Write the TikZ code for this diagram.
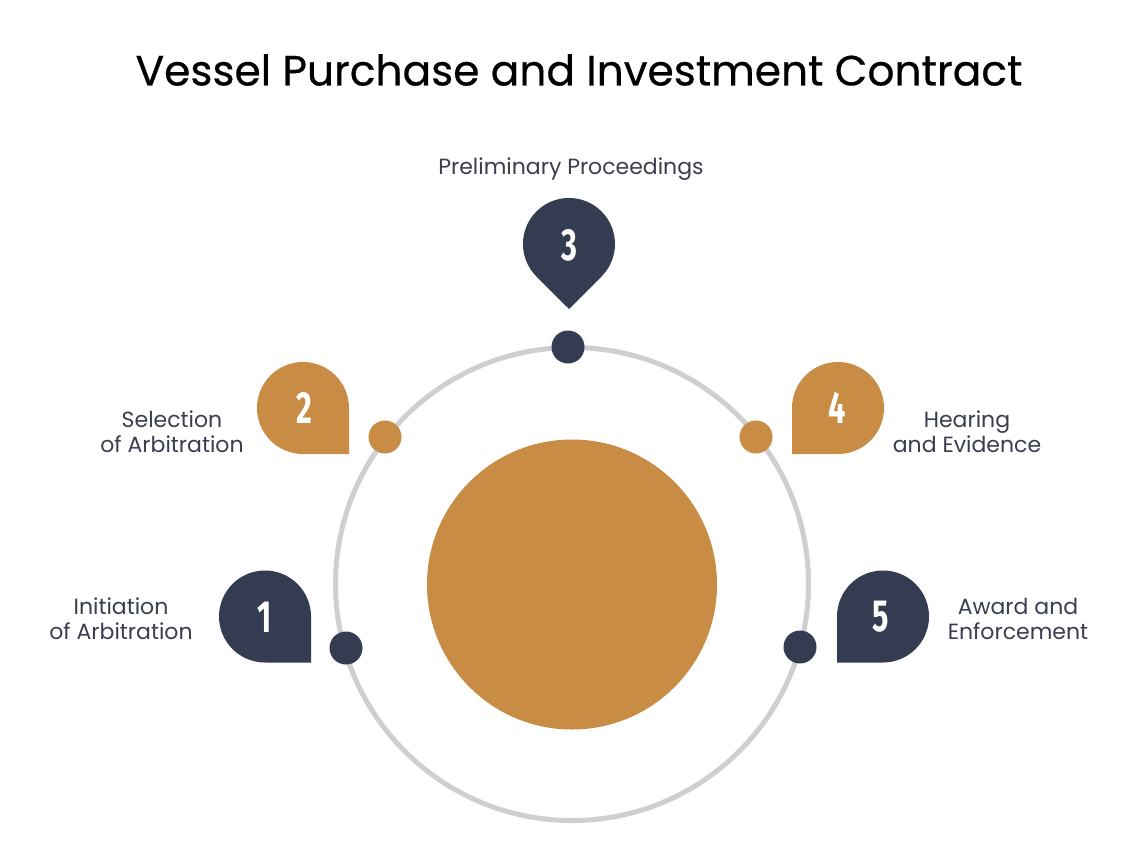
\documentclass[tikz,border=0pt]{standalone}
\usepackage{fontspec}
\setmainfont{Poppins}
\newfontfamily\titlefont[FakeBold=0.5]{Poppins}
\newfontfamily\numfont[FakeStretch=0.68]{Fira Sans}
\definecolor{navy}{HTML}{333C50}
\definecolor{gold}{HTML}{C98C45}
\definecolor{ringgray}{HTML}{CFCFCF}
\definecolor{txt}{HTML}{3A3F50}
\tikzset{
  lbl/.style={text=txt, align=center, font=\fontsize{22}{25}\selectfont, inner sep=0pt},
  num/.style={text=white, font=\numfont\bfseries\fontsize{45}{45}\selectfont, inner sep=0pt},
  dotn/.style={circle, minimum size=33pt, inner sep=0pt},
}
\begin{document}
\begin{tikzpicture}[x=1pt,y=-1pt]
\useasboundingbox[fill=white] (0,0) rectangle (1145,851);
% title
\node[font=\titlefont\fontsize{42.3}{45}\selectfont, text=black, inner sep=0pt] (title) at (579,70) {Vessel Purchase and Investment Contract};
% ring and central disc
\draw[ringgray, line width=5pt] (572,584) circle (236.5);
\fill[gold] (572,584.5) circle (145);
% dots on the ring
\node[dotn, fill=navy] (d3) at (568,347) {};
\node[dotn, fill=gold] (d2) at (385,437) {};
\node[dotn, fill=gold] (d4) at (756,437) {};
\node[dotn, fill=navy] (d1) at (346,648) {};
\node[dotn, fill=navy] (d5) at (800,647) {};
% badge 3 (teardrop pointing down)
\fill[navy] (569,309) -- (601.5,276.5) arc[start angle=45, end angle=-225, radius=46] -- cycle;
% badge 2 (sharp bottom-right)
\fill[gold] (349,454) -- (349,408) arc[start angle=0, end angle=-180, radius=46] arc[start angle=180, end angle=90, radius=46] -- cycle;
% badge 1 (sharp bottom-right)
\fill[navy] (311,662.5) -- (311,616.5) arc[start angle=0, end angle=-180, radius=46] arc[start angle=180, end angle=90, radius=46] -- cycle;
% badge 4 (sharp bottom-left)
\fill[gold] (792,454) -- (792,408) arc[start angle=180, end angle=360, radius=46] arc[start angle=0, end angle=90, radius=46] -- cycle;
% badge 5 (sharp bottom-left)
\fill[navy] (837,662.5) -- (837,616.5) arc[start angle=180, end angle=360, radius=46] arc[start angle=0, end angle=90, radius=46] -- cycle;
% numbers
\node[num] (n3) at (569,245) {3};
\node[num] (n2) at (304,408) {2};
\node[num] (n1) at (265,617) {1};
\node[num] (n4) at (837,408) {4};
\node[num] (n5) at (881,617) {5};
% labels
\node[lbl] (l3) at (571,169) {Preliminary Proceedings};
\node[lbl] (l2) at (172,432) {Selection\\of Arbitration};
\node[lbl] (l1) at (121,619) {Initiation\\of Arbitration};
\node[lbl] (l4) at (967,432) {Hearing\\and Evidence};
\node[lbl] (l5) at (1018,619) {Award and\\Enforcement};
\end{tikzpicture}
\end{document}
